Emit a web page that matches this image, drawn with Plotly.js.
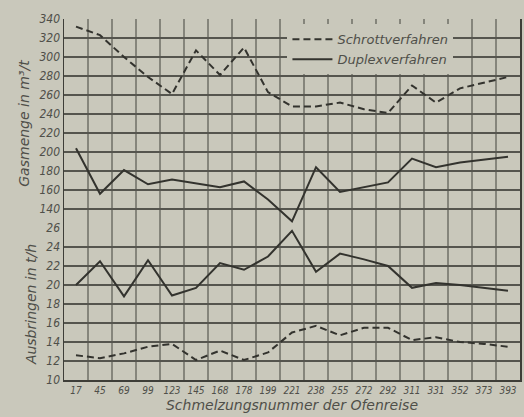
<!DOCTYPE html>
<html>
<head>
<meta charset="utf-8">
<script src="https://cdn.plot.ly/plotly-3.0.1.min.js"></script>
<style>html,body{margin:0;padding:0;background:#c9c8bb;}#chart{width:524px;height:417px;}</style>
</head>
<body>
<div id="chart"></div>
<script>
// Schmelzungsnummer der Ofenreise (x categories)
const schmelzungen = ['17','45','69','99','123','145','168','178','199','221','238','255','272','292','311','331','352','373','393'];

// Gasmenge in m³/t
const gasSchrott = [332, 323, 300, 279, 261, 307, 281, 310, 263, 248, 248, 252, 245, 241, 270, 252, 267, 273, 279];
const gasDuplex  = [204, 156, 181, 166, 171, 167, 163, 169, 150, 127, 184, 158, 163, 168, 193, 184, 189, 192, 195];

// Ausbringen in t/h
const ausSchrott = [12.6, 12.3, 12.8, 13.5, 13.8, 12.1, 13.1, 12.1, 12.9, 15.0, 15.7, 14.7, 15.5, 15.5, 14.2, 14.5, 14.0, 13.8, 13.5];
const ausDuplex  = [20.0, 22.5, 18.8, 22.6, 18.9, 19.7, 22.3, 21.6, 23.0, 25.7, 21.4, 23.3, 22.7, 22.0, 19.7, 20.2, 20.0, 19.7, 19.4];

const gasTicks = [140,160,180,200,220,240,260,280,300,320,340];
const ausTicks = [10,12,14,16,18,20,22,24,26];

const bg = '#c9c8bb';
const lineCol = '#33332e';
const txtCol = '#4f4f49';
const fam = 'Liberation Sans Narrow, DejaVu Sans Condensed, Roboto, sans-serif';
const famWide = 'DejaVu Sans, Roboto, sans-serif';
const dashPat = '7px,4px';

const traces = [
  {x: schmelzungen, y: gasSchrott, xaxis: 'x', yaxis: 'y', mode: 'lines', name: 'Schrottverfahren',
   legendgroup: 's', line: {color: lineCol, width: 2, dash: dashPat}},
  {x: schmelzungen, y: gasDuplex, xaxis: 'x', yaxis: 'y', mode: 'lines', name: 'Duplexverfahren',
   legendgroup: 'd', line: {color: lineCol, width: 2}},
  {x: schmelzungen, y: ausSchrott, xaxis: 'x', yaxis: 'y2', mode: 'lines', name: 'Schrottverfahren',
   legendgroup: 's', showlegend: false, line: {color: lineCol, width: 2, dash: dashPat}},
  {x: schmelzungen, y: ausDuplex, xaxis: 'x', yaxis: 'y2', mode: 'lines', name: 'Duplexverfahren',
   legendgroup: 'd', showlegend: false, line: {color: lineCol, width: 2}}
];

const tickFont = {family: fam, size: 12, color: txtCol, style: 'italic'};
const titleFont = {family: famWide, size: 14, color: txtCol, style: 'italic'};

const layout = {
  width: 524, height: 417,
  margin: {l: 64, r: 4, t: 19, b: 37, pad: 0},
  paper_bgcolor: bg, plot_bgcolor: bg,
  showlegend: true,
  legend: {x: 0.49, y: 0.985, xanchor: 'left', yanchor: 'top', bgcolor: bg,
           font: {family: famWide, size: 13, color: txtCol, style: 'italic'}, tracegroupgap: 0, itemwidth: 40},
  xaxis: {type: 'category', anchor: 'y2', range: [-0.5, schmelzungen.length - 0.5],
          tickson: 'boundaries', ticks: '', tickangle: 0, showgrid: true, gridcolor: '#85857b', gridwidth: 2,
          showline: true, linecolor: '#3e3e38', linewidth: 1.5, mirror: false,
          tickfont: {family: fam, size: 10, color: txtCol, style: 'italic'}, automargin: false,
          title: {text: 'Schmelzungsnummer der Ofenreise', font: titleFont, standoff: 5}},
  yaxis: {domain: [8/19, 1], range: [120, 340], tickvals: gasTicks, ticks: '',
          showgrid: true, gridcolor: '#55554e', gridwidth: 1.5, zeroline: false,
          showline: true, linecolor: '#3e3e38', linewidth: 1.5, mirror: true,
          tickfont: tickFont, automargin: false,
          title: {text: 'Gasmenge in m³/t', font: titleFont, standoff: 6}},
  yaxis2: {domain: [0, 8/19], range: [10, 26], tickvals: ausTicks, ticks: '',
          showgrid: true, gridcolor: '#55554e', gridwidth: 1.5, zeroline: false,
          showline: true, linecolor: '#3e3e38', linewidth: 1.5, mirror: true,
          tickfont: tickFont, automargin: false,
          title: {text: 'Ausbringen in t/h', font: titleFont, standoff: 6}}
};

Plotly.newPlot('chart', traces, layout, {displayModeBar: false, staticPlot: true});
</script>
</body>
</html>
